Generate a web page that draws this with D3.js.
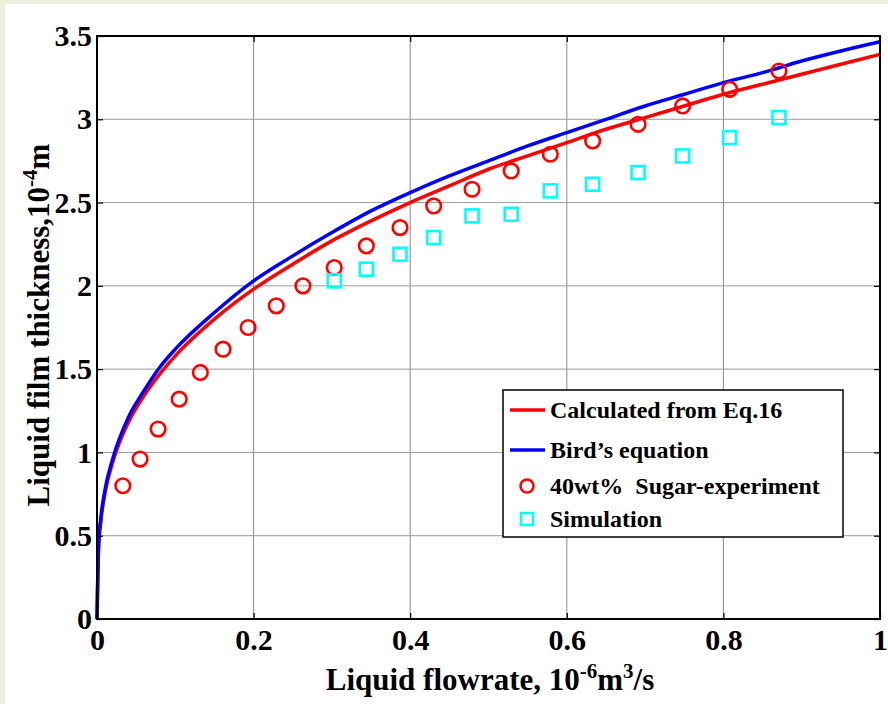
<!DOCTYPE html>
<html>
<head>
<meta charset="utf-8">
<script src="https://cdn.jsdelivr.net/npm/d3@7"></script>
<style>
  body { margin: 0; background: #ebf1de; }
  svg { display: block; }
  text { font-family: "Liberation Serif", "Times New Roman", serif; font-weight: bold; }
</style>
</head>
<body>
<svg></svg>
<script>
// values
let calcQ = [0, 0.002, 0.005, 0.01, 0.02, 0.04, 0.06, 0.08, 0.1, 0.15, 0.2, 0.25, 0.3, 0.35, 0.4, 0.45, 0.5, 0.55, 0.6, 0.65, 0.7, 0.75, 0.8, 0.85, 0.9, 0.95, 1.0];
let calcH = [0, 0.42, 0.59, 0.75, 0.94, 1.18, 1.34, 1.47, 1.58, 1.80, 1.98, 2.13, 2.27, 2.39, 2.50, 2.60, 2.70, 2.78, 2.86, 2.94, 3.01, 3.08, 3.15, 3.21, 3.27, 3.33, 3.39];

let birdQ = [0, 0.002, 0.005, 0.01, 0.02, 0.04, 0.06, 0.08, 0.1, 0.15, 0.2, 0.25, 0.3, 0.35, 0.4, 0.45, 0.5, 0.55, 0.6, 0.65, 0.7, 0.75, 0.8, 0.85, 0.9, 0.95, 1.0];
let birdH = [0, 0.44, 0.61, 0.77, 0.96, 1.21, 1.37, 1.51, 1.62, 1.84, 2.03, 2.18, 2.32, 2.45, 2.56, 2.66, 2.75, 2.84, 2.92, 3.00, 3.08, 3.15, 3.22, 3.28, 3.35, 3.41, 3.465];

let expQ = [0.033, 0.055, 0.078, 0.105, 0.132, 0.161, 0.193, 0.229, 0.263, 0.303, 0.344, 0.387, 0.430, 0.479, 0.529, 0.579, 0.633, 0.691, 0.748, 0.808, 0.871];
let expH = [0.80, 0.96, 1.14, 1.32, 1.48, 1.62, 1.75, 1.88, 2.00, 2.11, 2.24, 2.35, 2.48, 2.58, 2.69, 2.79, 2.87, 2.97, 3.08, 3.18, 3.29];

let simQ = [0.303, 0.344, 0.387, 0.430, 0.479, 0.529, 0.579, 0.633, 0.691, 0.748, 0.808, 0.871];
let simH = [2.03, 2.10, 2.19, 2.29, 2.42, 2.43, 2.57, 2.61, 2.68, 2.78, 2.89, 3.01];

let xTicks = [0, 0.2, 0.4, 0.6, 0.8, 1];
let yTicks = [0, 0.5, 1, 1.5, 2, 2.5, 3, 3.5];

let legendNames = ['Calculated from Eq.16', "Bird\u2019s equation", '40wt%  Sugar-experiment', 'Simulation'];

let width = 888;
let height = 704;
let plotL = 97, plotR = 880, plotT = 36, plotB = 619;

let svg = d3.select('svg')
  .attr('width', width)
  .attr('height', height)

svg.append('rect')
  .attr('x', 5).attr('y', 4)
  .attr('width', width - 5).attr('height', height - 4)
  .attr('fill', '#ffffff')

let xScale = d3.scaleLinear().domain([0, 1]).range([plotL, plotR]);
let yScale = d3.scaleLinear().domain([0, 3.5]).range([plotB, plotT]);

// grid
let grid = svg.append('g');
grid.selectAll('.vg')
  .data(xTicks.slice(1, -1))
  .enter()
  .append('line')
  .attr('x1', d => xScale(d)).attr('x2', d => xScale(d))
  .attr('y1', plotT).attr('y2', plotB)
  .attr('stroke', '#8a8a8a').attr('stroke-width', 1)
grid.selectAll('.hg')
  .data(yTicks.slice(1, -1))
  .enter()
  .append('line')
  .attr('y1', d => yScale(d)).attr('y2', d => yScale(d))
  .attr('x1', plotL).attr('x2', plotR)
  .attr('stroke', '#9a9a9a').attr('stroke-width', 1)

// curves
let line = d3.line()
  .x(d => xScale(d[0]))
  .y(d => yScale(d[1]))
  .curve(d3.curveMonotoneX);

svg.append('path')
  .datum(d3.zip(calcQ, calcH))
  .attr('d', line)
  .attr('fill', 'none')
  .attr('stroke', '#ff0000')
  .attr('stroke-width', 3.5)

svg.append('path')
  .datum(d3.zip(birdQ, birdH))
  .attr('d', line)
  .attr('fill', 'none')
  .attr('stroke', '#0000ff')
  .attr('stroke-width', 3.5)

// markers
svg.selectAll('.exp')
  .data(d3.zip(expQ, expH))
  .enter()
  .append('circle')
  .attr('cx', d => xScale(d[0]))
  .attr('cy', d => yScale(d[1]))
  .attr('r', 7.3)
  .attr('fill', 'none')
  .attr('stroke', '#ff0000')
  .attr('stroke-width', 2.6)

svg.selectAll('.sim')
  .data(d3.zip(simQ, simH))
  .enter()
  .append('rect')
  .attr('x', d => xScale(d[0]) - 6.5)
  .attr('y', d => yScale(d[1]) - 6.5)
  .attr('width', 13)
  .attr('height', 13)
  .attr('fill', 'none')
  .attr('stroke', '#00ffff')
  .attr('stroke-width', 2.6)

// axes
let xAxis = d3.axisBottom(xScale).tickValues(xTicks).tickFormat(d => d).tickSizeInner(-6).tickSizeOuter(0).tickPadding(10);
let yAxis = d3.axisLeft(yScale).tickValues(yTicks).tickFormat(d => d).tickSizeInner(-6).tickSizeOuter(0).tickPadding(5);
let xTop = d3.axisTop(xScale).tickValues(xTicks).tickFormat('').tickSizeInner(-6).tickSizeOuter(0);
let yRight = d3.axisRight(yScale).tickValues(yTicks).tickFormat('').tickSizeInner(-6).tickSizeOuter(0);

let gx = svg.append('g').attr('transform', `translate(0, ${plotB})`).call(xAxis);
let gy = svg.append('g').attr('transform', `translate(${plotL}, 0)`).call(yAxis);
svg.append('g').attr('transform', `translate(0, ${plotT})`).call(xTop);
svg.append('g').attr('transform', `translate(${plotR}, 0)`).call(yRight);

svg.selectAll('.domain').remove();
svg.selectAll('.tick line').attr('stroke', '#000').attr('stroke-width', 1.2);
svg.selectAll('.tick text').attr('font-size', 30).attr('font-family', '"Liberation Serif", serif').attr('font-weight', 'bold').attr('fill', '#000');

svg.append('rect')
  .attr('x', plotL).attr('y', plotT)
  .attr('width', plotR - plotL).attr('height', plotB - plotT)
  .attr('fill', 'none')
  .attr('stroke', '#000')
  .attr('stroke-width', 2)

// axis labels
let xl = svg.append('text')
  .attr('x', 490).attr('y', 690)
  .attr('text-anchor', 'middle')
  .attr('font-size', 31)
xl.append('tspan').text('Liquid flowrate, 10')
xl.append('tspan').text('-6').attr('font-size', 21).attr('dy', -12)
xl.append('tspan').text('m').attr('dy', 12)
xl.append('tspan').text('3').attr('font-size', 21).attr('dy', -12)
xl.append('tspan').text('/s').attr('dy', 12)

let yl = svg.append('text')
  .attr('transform', 'translate(49, 325) rotate(-90)')
  .attr('text-anchor', 'middle')
  .attr('font-size', 31)
yl.append('tspan').text('Liquid film thickness,10')
yl.append('tspan').text('-4').attr('font-size', 21).attr('dy', -12)
yl.append('tspan').text('m').attr('dy', 12)

// legend
let lg = svg.append('g');
lg.append('rect')
  .attr('x', 503).attr('y', 390)
  .attr('width', 340).attr('height', 147)
  .attr('fill', '#fff')
  .attr('stroke', '#000')
  .attr('stroke-width', 1.5)

let rowsY = [410, 450, 486, 519];
let lineColors = ['#ff0000', '#0000ff'];
lineColors.forEach((c, i) => {
  lg.append('line')
    .attr('x1', 510).attr('x2', 545)
    .attr('y1', rowsY[i]).attr('y2', rowsY[i])
    .attr('stroke', c).attr('stroke-width', 3.5)
})
lg.append('circle')
  .attr('cx', 527).attr('cy', rowsY[2]).attr('r', 6.5)
  .attr('fill', 'none').attr('stroke', '#ff0000').attr('stroke-width', 2.5)
lg.append('rect')
  .attr('x', 521).attr('y', rowsY[3] - 6).attr('width', 12).attr('height', 12)
  .attr('fill', 'none').attr('stroke', '#00ffff').attr('stroke-width', 2.5)

lg.selectAll('.lt')
  .data(legendNames)
  .enter()
  .append('text')
  .attr('x', 550)
  .attr('y', (d, i) => rowsY[i])
  .attr('dy', '0.35em')
  .attr('font-size', 24)
  .style('white-space', 'pre')
  .text(d => d)
</script>
</body>
</html>
